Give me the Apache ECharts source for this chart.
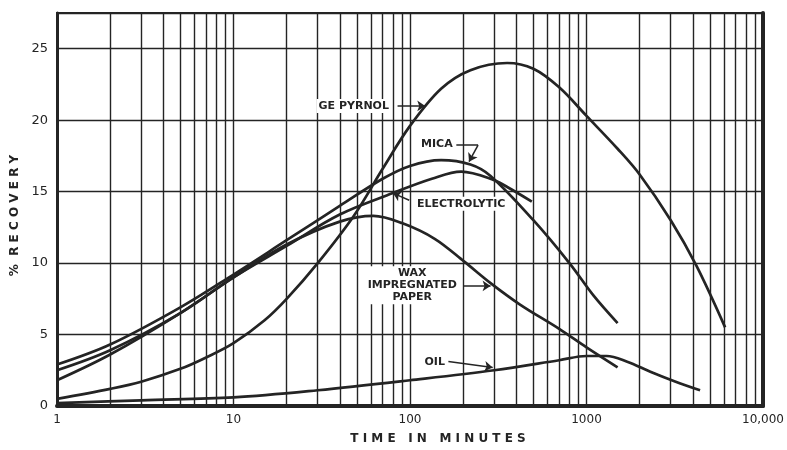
<!DOCTYPE html>
<html>
<head>
<meta charset="utf-8">
<script src="https://cdn.jsdelivr.net/npm/echarts@6.0.0/dist/echarts.min.js"></script>
<style>
  html, body { margin: 0; background: #fff; }
  #chart { width: 787px; height: 450px; }
</style>
</head>
<body>
<div id="chart"></div>
<script>
// axis ticks
const xTicks = [1, 10, 100, 1000, 10000];
const xTickLabels = ['1', '10', '100', '1000', '10,000'];
const yTicks = [0, 5, 10, 15, 20, 25];

// curves: [time in minutes, % recovery]
const gePyrnol = [[1, 0.5], [2, 1.2], [3, 1.7], [5, 2.6], [7, 3.4], [10, 4.4], [15, 6.0], [20, 7.5], [30, 10.0],
  [48, 13.3], [70, 16.6], [100, 19.6], [150, 22.2], [220, 23.5], [355, 24], [500, 23.6], [700, 22.3],
  [1000, 20.3], [1500, 18], [2000, 16.2], [3000, 13], [4200, 9.8], [6100, 5.5]];
const mica = [[1, 2.9], [2, 4.3], [5, 6.9], [10, 9.2], [20, 11.6], [40, 14.0], [70, 15.9], [100, 16.8], [150, 17.2],
  [220, 16.9], [286, 16.1], [500, 13.0], [800, 10.0], [1100, 7.7], [1500, 5.8]];
const electrolytic = [[1, 2.5], [2, 3.9], [5, 6.5], [10, 9.0], [20, 11.2], [40, 13.4], [80, 14.9], [133, 15.9],
  [195, 16.4], [300, 15.8], [370, 15.2], [490, 14.3]];
const waxPaper = [[1, 1.8], [2, 3.6], [5, 6.5], [10, 9.0], [20, 11.3], [40, 12.9], [62, 13.3], [90, 12.8],
  [138, 11.7], [203, 10.1], [286, 8.6], [420, 7.1], [700, 5.4], [1000, 4.1], [1500, 2.7]];
const oil = [[1, 0.2], [3, 0.4], [10, 0.6], [30, 1.1], [100, 1.8], [300, 2.5], [700, 3.2], [1000, 3.5],
  [1300, 3.5], [1700, 3.1], [2300, 2.4], [3200, 1.7], [4400, 1.1]];

// labels with their arrows, in data coordinates
const notes = [
  { text: 'GE PYRNOL', at: [48, 21], arrows: [[[85, 21], [122, 21], true]] },
  { text: 'MICA', at: [142, 18.3], arrows: [[[183, 18.25], [243, 18.25], false], [[243, 18.25], [216, 17.1], true]] },
  { text: 'ELECTROLYTIC', at: [195, 14.15], arrows: [[[99, 14.4], [80, 14.9], true]] },
  { text: 'WAX\nIMPREGNATED\nPAPER', at: [103, 8.45], arrows: [[[200, 8.4], [286, 8.4], true]] },
  { text: 'OIL', at: [138, 3.05], arrows: [[[165, 3.12], [294, 2.7], true]] }
];

// 2..9 of every decade
const minorX = [];
[1, 10, 100, 1000].forEach(d => { for (let k = 2; k <= 9; k++) minorX.push(k * d); });

const ink = '#242424';
const font = 'DejaVu Sans';

const curve = (name, data) => ({
  name, type: 'line', data, smooth: 0.35, symbol: 'none', z: 3, silent: true,
  lineStyle: { color: ink, width: 2.7 }
});

const chart = echarts.init(document.getElementById('chart'));
chart.setOption({
  animation: false,
  backgroundColor: '#fff',
  grid: { left: 57, right: 10, top: 13, bottom: 41, show: true, borderColor: ink, borderWidth: 2 },
  xAxis: {
    type: 'log', logBase: 10, min: 1, max: 10000,
    name: 'T I M E   I N   M I N U T E S', nameLocation: 'middle', nameGap: 27,
    nameTextStyle: { fontFamily: font, fontSize: 12, fontWeight: 'bold', color: ink, padding: [0, 0, 0, 56] },
    axisLine: { lineStyle: { color: ink, width: 4 } },
    axisTick: { show: false },
    axisLabel: {
      fontFamily: font, fontSize: 12, color: ink, margin: 8, showMaxLabel: true,
      formatter: v => xTickLabels[xTicks.indexOf(Math.round(v))] || ''
    },
    splitLine: { show: true, lineStyle: { color: ink, width: 1.4 } },
    minorTick: { show: false }, minorSplitLine: { show: false }
  },
  yAxis: [{
    type: 'value', min: 0, max: 27.5, interval: 5,
    name: '%  R E C O V E R Y', nameLocation: 'middle', nameGap: 34,
    nameTextStyle: { fontFamily: font, fontSize: 12, fontWeight: 'bold', color: ink, padding: [0, 12, 0, 0] },
    axisLine: { show: true, lineStyle: { color: ink, width: 3 } },
    axisTick: { show: false },
    axisLabel: {
      fontFamily: font, fontSize: 13, color: ink, margin: 9,
      formatter: v => yTicks.includes(v) ? String(v) : ''
    },
    splitLine: { show: true, lineStyle: { color: ink, width: 1.4 } }
  }, {
    type: 'value', position: 'right', min: 0, max: 27.5, interval: 5,
    axisLine: { show: true, lineStyle: { color: ink, width: 4 } },
    axisTick: { show: false }, axisLabel: { show: false }, splitLine: { show: false }
  }],
  series: [
    {
      name: 'grid', type: 'line', data: [], silent: true, z: 1,
      markLine: {
        silent: true, symbol: 'none', animation: false,
        label: { show: false }, emphasis: { disabled: true },
        lineStyle: { color: ink, width: 1.4, type: 'solid' },
        data: minorX.map(v => ({ xAxis: v }))
      }
    },
    curve('GE Pyrnol', gePyrnol),
    curve('Mica', mica),
    curve('Electrolytic', electrolytic),
    curve('Wax impregnated paper', waxPaper),
    curve('Oil', oil),
    {
      name: 'notes', type: 'line', data: [], silent: true, z: 6,
      markLine: {
        silent: true, animation: false, symbolSize: 8,
        label: { show: false }, emphasis: { disabled: true },
        lineStyle: { color: ink, width: 1.5, type: 'solid' },
        data: notes.flatMap(n => n.arrows.map(a => [
          { coord: a[0], symbol: 'none' },
          { coord: a[1], symbol: a[2] ? 'arrow' : 'none' }
        ]))
      },
      markPoint: {
        silent: true, animation: false, symbol: 'circle', symbolSize: 1,
        itemStyle: { color: 'rgba(0,0,0,0)' },
        label: {
          show: true, position: 'inside', fontFamily: font, fontSize: 11, fontWeight: 'bold',
          color: ink, lineHeight: 12, align: 'center', backgroundColor: '#fff', padding: [1, 2]
        },
        data: notes.map(n => ({ coord: n.at, label: { formatter: n.text } }))
      }
    }
  ]
});
</script>
</body>
</html>
